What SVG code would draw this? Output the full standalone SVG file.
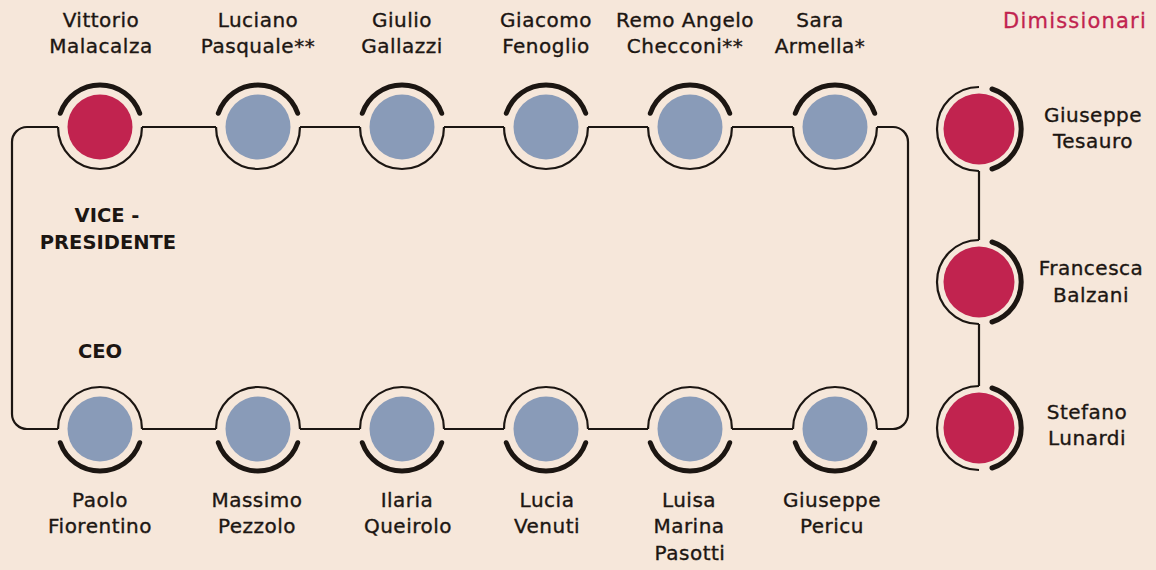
<svg xmlns="http://www.w3.org/2000/svg" width="1156" height="570" viewBox="0 0 1156 570">
<style>
.t{font-family:"DejaVu Sans","Liberation Sans",sans-serif;font-size:20px;letter-spacing:0.5px;fill:#1c1612;stroke:#1c1612;stroke-width:0.35;text-anchor:middle}
.b{font-family:"DejaVu Sans","Liberation Sans",sans-serif;font-size:19.5px;font-weight:bold;fill:#1c1612;text-anchor:middle}
.h{font-family:"DejaVu Sans","Liberation Sans",sans-serif;font-size:21px;letter-spacing:1.2px;fill:#c1234f;stroke:#c1234f;stroke-width:0.3;text-anchor:end}
.thin{fill:none;stroke:#1c1612;stroke-width:2.2}
.thick{fill:none;stroke:#1c1612;stroke-width:5;stroke-linecap:round}
.blue{fill:#899bb8}
.red{fill:#c1234f}
.con{fill:none;stroke:#1c1612;stroke-width:2.2}
</style>
<defs>
<g id="top">
<path class="thin" d="M-42 0 A42 42 0 0 0 42 0"/>
<path class="thick" d="M-39.7 -13.7 A42 42 0 0 1 39.7 -13.7"/>
</g>
<g id="bot">
<path class="thin" d="M-42 0 A42 42 0 0 1 42 0"/>
<path class="thick" d="M-39.7 13.7 A42 42 0 0 0 39.7 13.7"/>
</g>
<g id="side">
<path class="thin" d="M0 -42 A42 42 0 0 0 0 42"/>
<path class="thick" d="M13 -40 A42 42 0 0 1 13 40"/>
</g>
</defs>
<rect width="1156" height="570" fill="#f6e7da"/>

<g id="connectors">
<path class="con" d="M58 127 H27 A15 15 0 0 0 12 142 V414 A15 15 0 0 0 27 429 H58"/>
<path class="con" d="M877 127 H893 A15 15 0 0 1 908 142 V414 A15 15 0 0 1 893 429 H877"/>
<path class="con" d="M142 127 H216 M300 127 H360 M444 127 H504 M588 127 H648 M732 127 H793"/>
<path class="con" d="M142 429 H216 M300 429 H360 M444 429 H504 M588 429 H648 M732 429 H793"/>
<path class="con" d="M979 171 V240 M979 324 V386"/>
</g>

<text class="h" x="1147" y="28">Dimissionari</text>

<g id="n-malacalza"><use href="#top" x="100" y="127"/><circle class="red" cx="100" cy="127" r="32.5"/>
<text class="t" x="101" y="27">Vittorio</text><text class="t" x="101" y="53">Malacalza</text>
<text class="b" x="107" y="222">VICE -</text><text class="b" x="108" y="249">PRESIDENTE</text></g>
<g id="n-pasquale"><use href="#top" x="258" y="127"/><circle class="blue" cx="258" cy="127" r="32.5"/>
<text class="t" x="258" y="27">Luciano</text><text class="t" x="258" y="53">Pasquale**</text></g>
<g id="n-gallazzi"><use href="#top" x="402" y="127"/><circle class="blue" cx="402" cy="127" r="32.5"/>
<text class="t" x="402" y="27">Giulio</text><text class="t" x="402" y="53">Gallazzi</text></g>
<g id="n-fenoglio"><use href="#top" x="546" y="127"/><circle class="blue" cx="546" cy="127" r="32.5"/>
<text class="t" x="546" y="27">Giacomo</text><text class="t" x="546" y="53">Fenoglio</text></g>
<g id="n-checconi"><use href="#top" x="690" y="127"/><circle class="blue" cx="690" cy="127" r="32.5"/>
<text class="t" x="685" y="27">Remo Angelo</text><text class="t" x="685" y="53">Checconi**</text></g>
<g id="n-armella"><use href="#top" x="835" y="127"/><circle class="blue" cx="835" cy="127" r="32.5"/>
<text class="t" x="820" y="27">Sara</text><text class="t" x="820" y="53">Armella*</text></g>

<g id="n-fiorentino"><use href="#bot" x="100" y="429"/><circle class="blue" cx="100" cy="429" r="32.5"/>
<text class="b" x="100" y="358">CEO</text>
<text class="t" x="100" y="507">Paolo</text><text class="t" x="100" y="533">Fiorentino</text></g>
<g id="n-pezzolo"><use href="#bot" x="258" y="429"/><circle class="blue" cx="258" cy="429" r="32.5"/>
<text class="t" x="257" y="507">Massimo</text><text class="t" x="257" y="533">Pezzolo</text></g>
<g id="n-queirolo"><use href="#bot" x="402" y="429"/><circle class="blue" cx="402" cy="429" r="32.5"/>
<text class="t" x="407" y="507">Ilaria</text><text class="t" x="408" y="533">Queirolo</text></g>
<g id="n-venuti"><use href="#bot" x="546" y="429"/><circle class="blue" cx="546" cy="429" r="32.5"/>
<text class="t" x="547" y="507">Lucia</text><text class="t" x="547" y="533">Venuti</text></g>
<g id="n-pasotti"><use href="#bot" x="690" y="429"/><circle class="blue" cx="690" cy="429" r="32.5"/>
<text class="t" x="689" y="507">Luisa</text><text class="t" x="689" y="533">Marina</text><text class="t" x="690" y="560">Pasotti</text></g>
<g id="n-pericu"><use href="#bot" x="835" y="429"/><circle class="blue" cx="835" cy="429" r="32.5"/>
<text class="t" x="832" y="507">Giuseppe</text><text class="t" x="832" y="533">Pericu</text></g>

<g id="n-tesauro"><use href="#side" x="979" y="129"/><circle class="red" cx="979" cy="129" r="35.5"/>
<text class="t" x="1093" y="122">Giuseppe</text><text class="t" x="1093" y="148">Tesauro</text></g>
<g id="n-balzani"><use href="#side" x="979" y="282"/><circle class="red" cx="979" cy="282" r="35.5"/>
<text class="t" x="1091" y="275">Francesca</text><text class="t" x="1091" y="302">Balzani</text></g>
<g id="n-lunardi"><use href="#side" x="979" y="428"/><circle class="red" cx="979" cy="428" r="35.5"/>
<text class="t" x="1087" y="419">Stefano</text><text class="t" x="1087" y="445">Lunardi</text></g>
</svg>
